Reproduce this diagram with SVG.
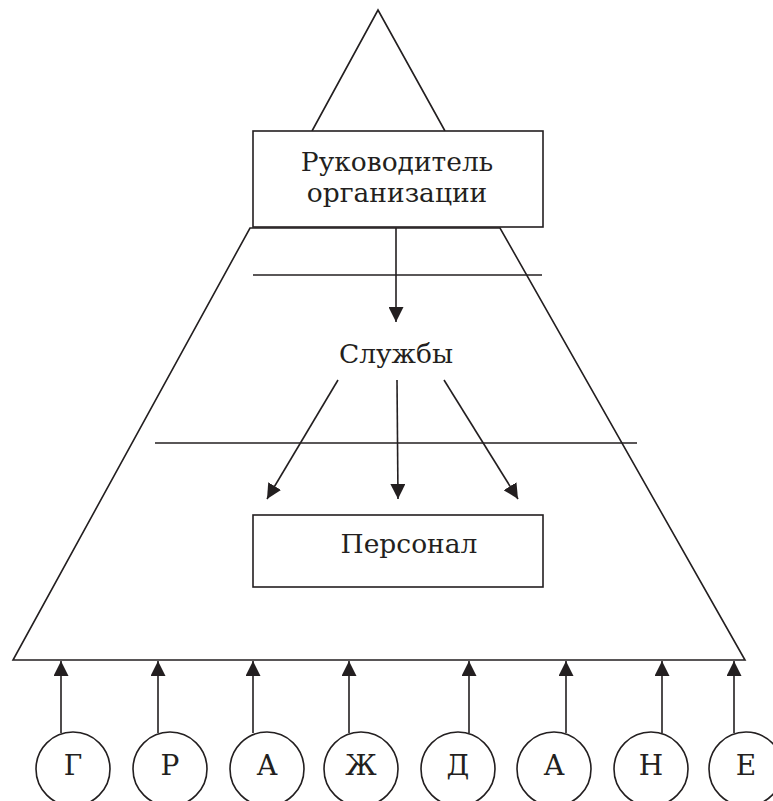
<svg xmlns="http://www.w3.org/2000/svg" width="773" height="801" viewBox="0 0 773 801">
<defs>
<style>
.ln{stroke:#231f20;stroke-width:1.6;fill:none}
.bx{stroke:#231f20;stroke-width:1.6;fill:#fff}
.t{font-family:"DejaVu Serif",serif;font-size:26.5px;fill:#231f20;text-anchor:middle}
.l{font-size:28px}
.ar{stroke:#231f20;stroke-width:1.6;fill:none;marker-end:url(#ah)}
</style>
<marker id="ah" viewBox="0 0 16 15" refX="15" refY="7.5" markerWidth="16" markerHeight="15" markerUnits="userSpaceOnUse" orient="auto">
<path d="M0,0 L15,7.5 L0,15 Z" fill="#231f20"/>
</marker>
</defs>
<rect width="773" height="801" fill="#fff"/>
<g id="pyramid">
<polyline class="ln" points="312,131 378,10 445,131"/>
<polygon class="ln" points="250,228 500,228 745,660 13,660"/>
<line class="ln" x1="253" y1="275" x2="542" y2="275"/>
<line class="ln" x1="155" y1="443" x2="637" y2="443"/>
</g>
<g id="connectors">
<line class="ar" x1="396" y1="228" x2="396" y2="322"/>
<line class="ar" x1="338" y1="380" x2="267" y2="499"/>
<line class="ar" x1="397" y1="380" x2="398" y2="499"/>
<line class="ar" x1="444" y1="380" x2="518" y2="499"/>
<line class="ar" x1="61" y1="733" x2="61" y2="661"/>
<line class="ar" x1="158" y1="733" x2="158" y2="661"/>
<line class="ar" x1="253" y1="733" x2="253" y2="661"/>
<line class="ar" x1="349" y1="733" x2="349" y2="661"/>
<line class="ar" x1="469" y1="733" x2="469" y2="661"/>
<line class="ar" x1="566" y1="733" x2="566" y2="661"/>
<line class="ar" x1="662" y1="733" x2="662" y2="661"/>
<line class="ar" x1="734" y1="733" x2="734" y2="661"/>
</g>
<g id="head">
<rect class="bx" x="253" y="131" width="290" height="96"/>
<text class="t" x="397" y="171">Руководитель</text>
<text class="t" x="397" y="202">организации</text>
</g>
<g id="services">
<text class="t" x="396" y="363">Службы</text>
</g>
<g id="staff">
<rect class="bx" x="253" y="515" width="290" height="72"/>
<text class="t" x="409" y="553">Персонал</text>
</g>
<g id="c1"><circle class="bx" cx="73" cy="769" r="37"/><text class="t l" x="73" y="775">Г</text></g>
<g id="c2"><circle class="bx" cx="170" cy="769" r="37"/><text class="t l" x="170" y="775">Р</text></g>
<g id="c3"><circle class="bx" cx="267" cy="769" r="37"/><text class="t l" x="267" y="775">А</text></g>
<g id="c4"><circle class="bx" cx="361" cy="769" r="37"/><text class="t l" x="361" y="775">Ж</text></g>
<g id="c5"><circle class="bx" cx="458" cy="769" r="37"/><text class="t l" x="458" y="775">Д</text></g>
<g id="c6"><circle class="bx" cx="554" cy="769" r="37"/><text class="t l" x="554" y="775">А</text></g>
<g id="c7"><circle class="bx" cx="651" cy="769" r="37"/><text class="t l" x="651" y="775">Н</text></g>
<g id="c8"><circle class="bx" cx="746" cy="769" r="37"/><text class="t l" x="746" y="775">Е</text></g>
</svg>
